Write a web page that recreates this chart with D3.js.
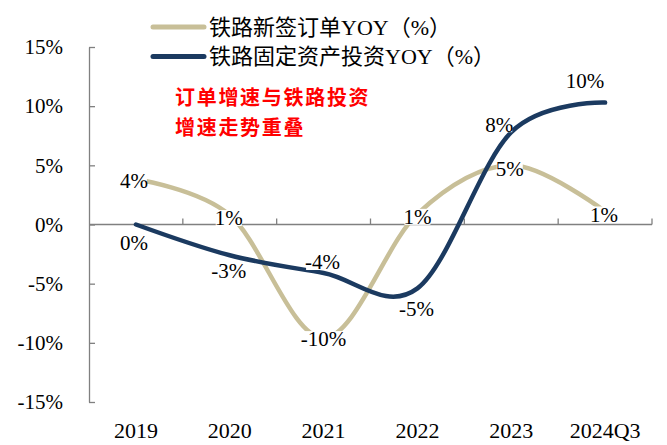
<!DOCTYPE html>
<html>
<script src="https://d3js.org/d3.v7.min.js"></script>
<style>
    body {
        margin: 0;
        background: #fff;
    }

    text {
        font-family: "Liberation Serif", "Noto Sans CJK SC", serif;
        fill: #000;
    }

    .axis path,
    .axis line {
        stroke: #808080;
        stroke-width: 1.3px;
    }
</style>

<body>
</body>
<script>
    const width = 667,
        height = 445;

    // data
    const categories = ["2019", "2020", "2021", "2022", "2023", "2024Q3"];
    const orders = [3.8, 0.8, -9.6, 0.9, 5.0, 1.1];        // 铁路新签订单YOY
    const investment = [0, -2.6, -4.1, -5.4, 7.8, 10.3];    // 铁路固定资产投资YOY
    const yTicks = [-15, -10, -5, 0, 5, 10, 15];
    const seriesNames = ["铁路新签订单YOY（%）", "铁路固定资产投资YOY（%）"];

    // where each value label sits relative to its point
    const ordersLabelOffset = [[-2, 1.5], [-1, 3], [0, 1], [0, 3], [-1.5, 3], [-1, 3]];
    const investLabelOffset = [[-2, 18.5], [-1, 15], [-1, -11], [-1, 20], [-12, -8], [-20, -22]];

    const colors = ["#C8BF98", "#1B3A60"];

    const svg = d3.select("body").append("svg").attr("width", width).attr("height", height);

    const x = d3.scaleBand()
        .domain(categories)
        .range([89, 652]);
    const y = d3.scaleLinear()
        .domain([-15, 15])
        .range([402, 47]);
    const cx = c => x(c) + x.bandwidth() / 2;

    // y axis, ticks pointing into the plot
    svg.append("g")
        .attr("class", "axis")
        .attr("transform", "translate(89,0)")
        .call(d3.axisLeft(y).tickValues(yTicks).tickSize(-6).tickSizeOuter(0).tickPadding(26)
            .tickFormat(d => d + "%"))
        .selectAll("text")
        .attr("font-size", 21)
        .style("font-family", "'Liberation Serif', serif");

    // zero line with category boundary ticks
    const zero = svg.append("g").attr("class", "axis");
    zero.append("line")
        .attr("x1", 89).attr("x2", 652)
        .attr("y1", y(0)).attr("y2", y(0));
    zero.selectAll(".bound")
        .data(categories.slice(1).map(c => x(c)).concat([x.range()[1]]))
        .join("line")
        .attr("class", "bound")
        .attr("x1", d => d).attr("x2", d => d)
        .attr("y1", y(0)).attr("y2", y(0) - 6);

    // category labels at the bottom
    const xAxis = svg.append("g")
        .attr("transform", "translate(0,402)")
        .call(d3.axisBottom(x).tickSize(0).tickPadding(20));
    xAxis.select(".domain").remove();
    xAxis.selectAll("text")
        .attr("font-size", 22)
        .style("font-family", "'Liberation Serif', serif");

    const line = d3.line()
        .x((d, i) => cx(categories[i]))
        .y(d => y(d))
        .curve(d3.curveCardinal.tension(0));

    [orders, investment].forEach((vals, k) => {
        svg.append("path")
            .datum(vals)
            .attr("fill", "none")
            .attr("stroke", colors[k])
            .attr("stroke-width", 4.5)
            .attr("stroke-linecap", "round")
            .attr("d", line);
    });

    // value labels
    const labels = [];
    orders.forEach((v, i) => labels.push({ v, i, off: ordersLabelOffset[i] }));
    investment.forEach((v, i) => labels.push({ v, i, off: investLabelOffset[i] }));

    const lab = svg.append("g").selectAll("g")
        .data(labels)
        .join("g")
        .attr("transform", d => `translate(${cx(categories[d.i]) + d.off[0]},${y(d.v) + d.off[1]})`);
    lab.append("rect").attr("fill", "#fff");
    lab.append("text")
        .attr("text-anchor", "middle")
        .attr("dy", "0.35em")
        .attr("font-size", 21)
        .style("font-family", "'Liberation Serif', serif")
        .text(d => Math.round(d.v) + "%");
    lab.each(function () {
        const b = d3.select(this).select("text").node().getBBox();
        d3.select(this).select("rect")
            .attr("x", b.x + 1).attr("width", b.width - 2)
            .attr("y", -8).attr("height", 16);
    });

    // legend
    const legend = svg.append("g");
    seriesNames.forEach((name, k) => {
        const ly = 27 + k * 29.5;
        legend.append("line")
            .attr("x1", 153).attr("x2", 204)
            .attr("y1", ly).attr("y2", ly)
            .attr("stroke", colors[k])
            .attr("stroke-width", 5)
            .attr("stroke-linecap", "round");
        legend.append("text")
            .attr("x", 209).attr("y", ly)
            .attr("dy", "0.35em")
            .attr("font-size", 22)
            .text(name);
    });

    // annotation
    const note = svg.append("g");
    ["订单增速与铁路投资", "增速走势重叠"].forEach((t, k) => {
        note.append("text")
            .attr("x", 175).attr("y", 98 + k * 30)
            .attr("dy", "0.35em")
            .attr("font-size", 20)
            .attr("font-weight", "bold")
            .attr("letter-spacing", 1.7)
            .style("fill", "#FF0000")
            .style("font-family", "'Noto Sans CJK SC', sans-serif")
            .text(t);
    });
</script>

</html>
